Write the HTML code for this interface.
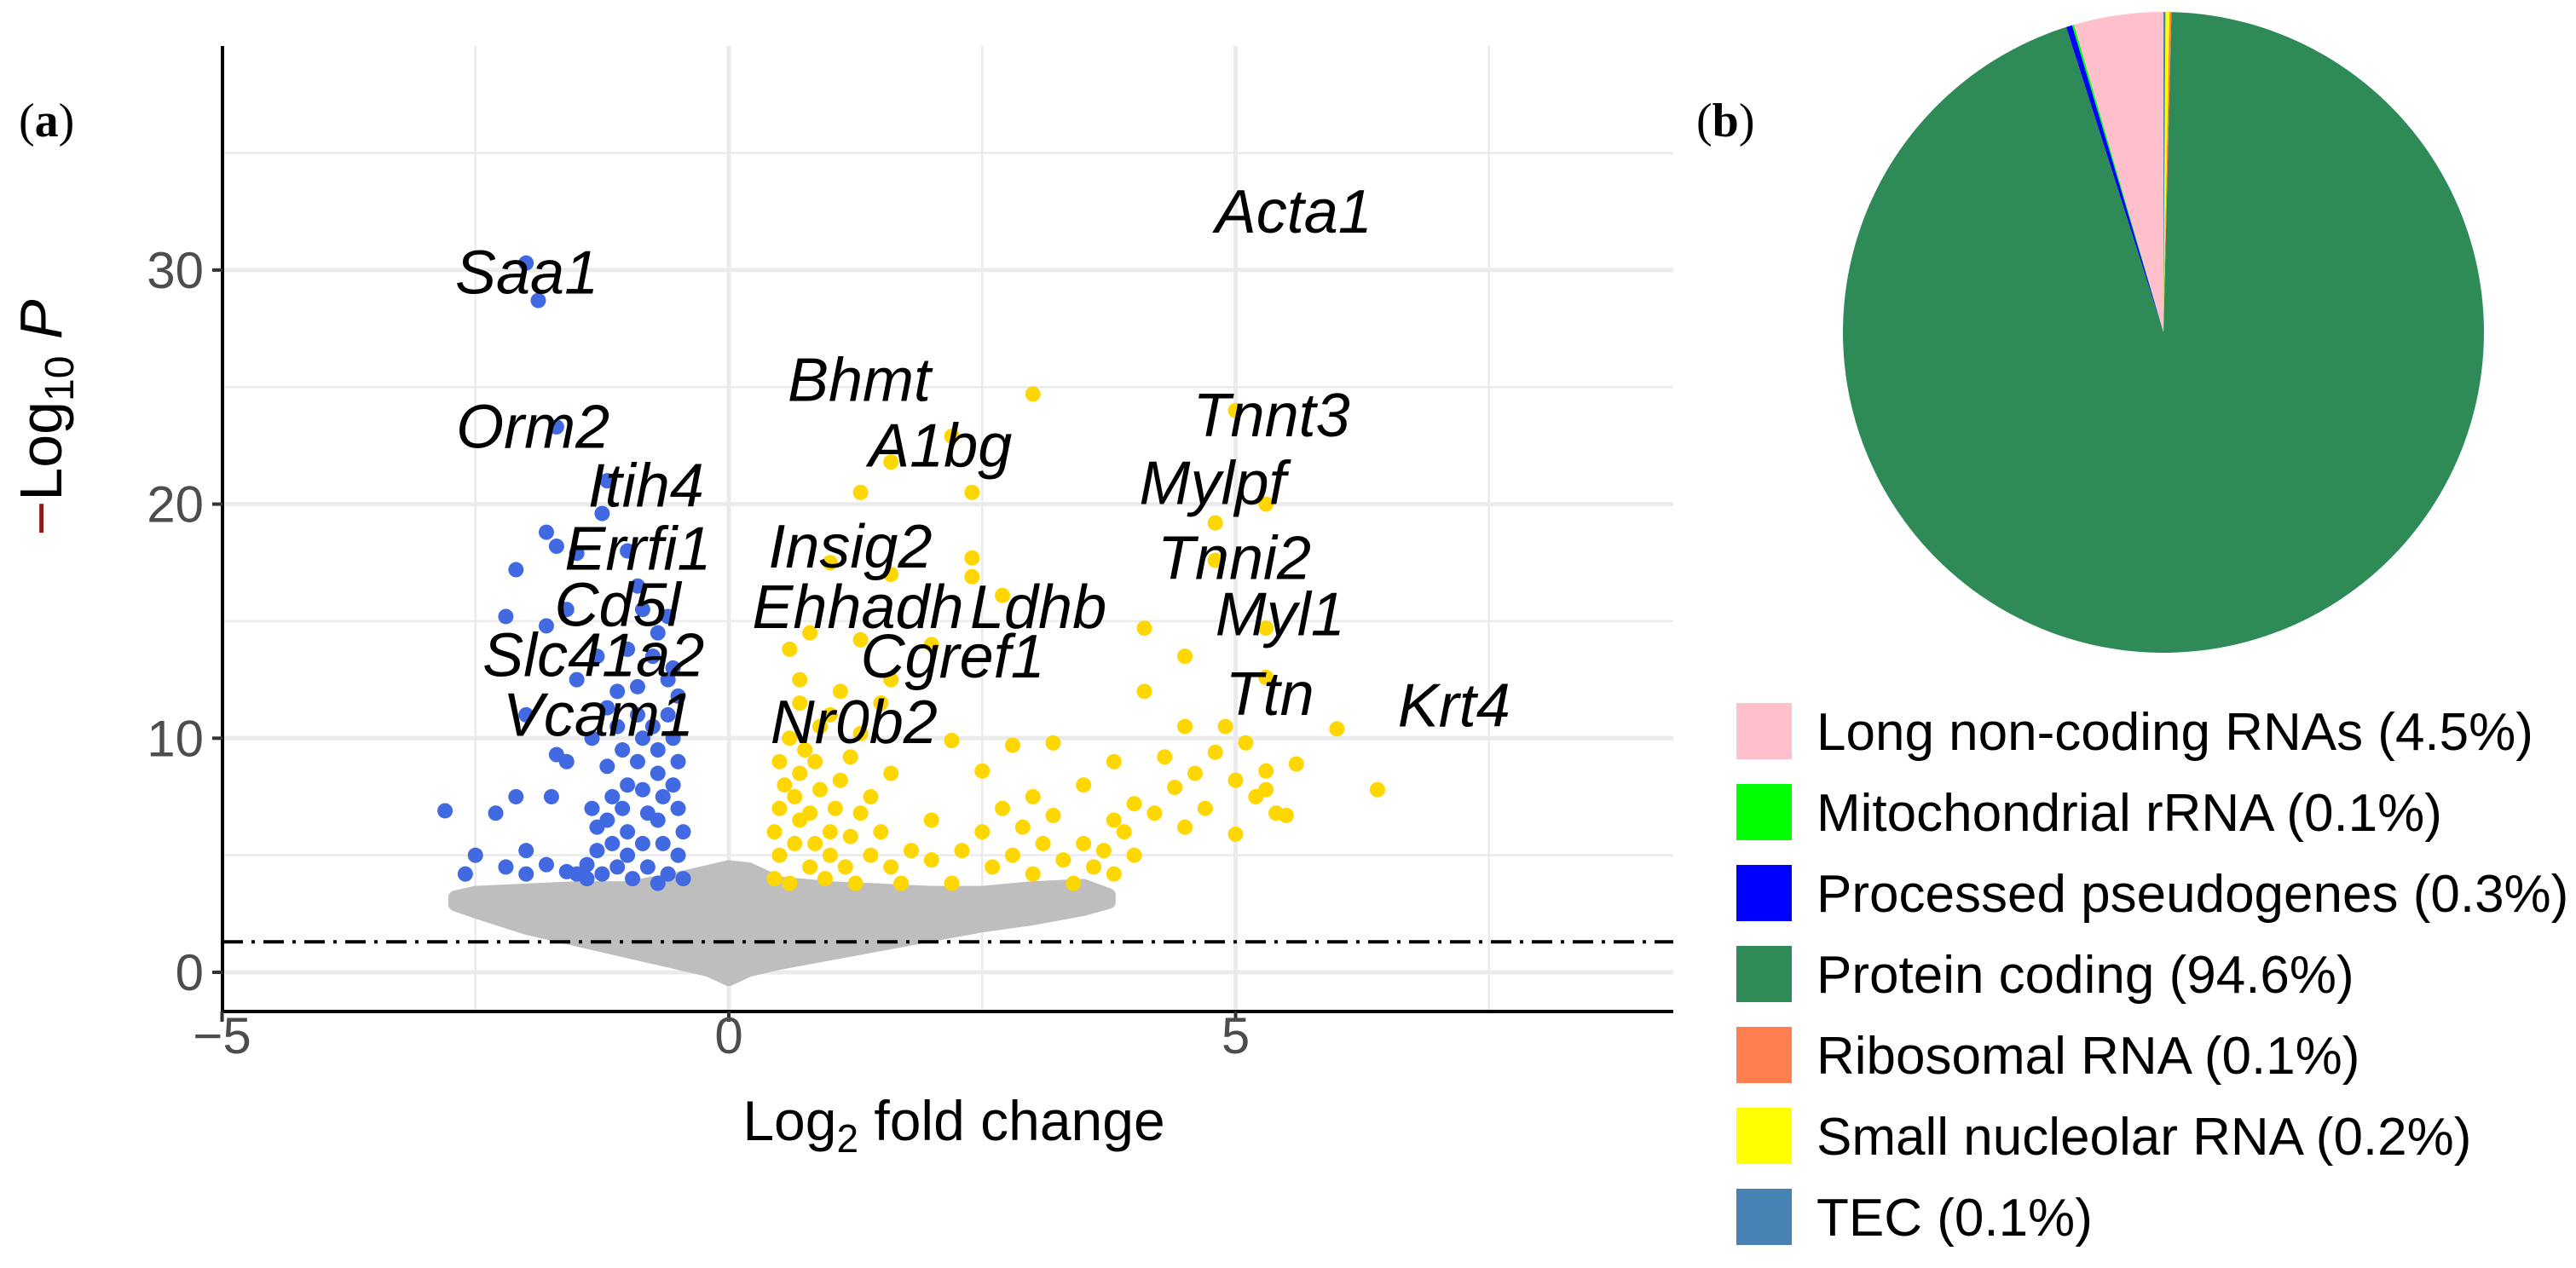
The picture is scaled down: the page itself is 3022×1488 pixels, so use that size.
<!DOCTYPE html>
<html><head><meta charset="utf-8">
<style>
html,body{margin:0;padding:0;background:#fff;}
svg{display:block;}
</style></head>
<body>
<svg id="fig" width="3022" height="1488" viewBox="0 0 3022 1488" xmlns="http://www.w3.org/2000/svg">
<rect x="0" y="0" width="3022" height="1488" fill="#fff"/>
<g id="grid"></g>
<g id="cloud"></g>
<g id="pts"></g>
<g id="axes"></g>
<g id="labels"></g>
<text x="22" y="160" font-family="Liberation Serif, serif" font-size="56">(<tspan font-weight="bold">a</tspan>)</text>
<text x="1990" y="160" font-family="Liberation Serif, serif" font-size="56">(<tspan font-weight="bold">b</tspan>)</text>
<g id="pie"></g>
<g id="legend"></g>
</svg>
<script>
const NS="http://www.w3.org/2000/svg";
// ---- volcano data ----
const xTicks=[-5,0,5];
const yTicks=[0,10,20,30];
const blueX=[-1.88,-2.0,-1.7,-1.2,-1.25,-1.8,-1.7,-2.1,-1.5,-1.0,-2.2,-1.8,-1.6,-1.3,-1.5,-1.1,-2.0,-1.7,-1.6,-2.1,-1.75,-2.8,-2.3,-2.6,-2.5,-2.2,-2.0,-1.8,-2.0,-1.6,-1.4,
-0.45,-0.5,-0.45,-0.5,-0.55,-0.5,-0.55,-0.6,-0.6,-0.65,-0.7,-0.65,-0.7,-0.7,-0.75,-0.8,-0.85,-0.8,-0.85,-0.9,-0.85,-0.9,-0.95,-1.0,-1.0,-1.05,-1.0,-1.05,-1.1,-1.15,-1.2,-1.15,-1.2,-1.25,-1.3,-1.3,-1.35,-0.6,-0.75,-0.9,-0.55,-0.7,-1.0,-0.85,-0.6,-0.9,-0.7,-1.4,-1.5,-0.5,-1.1,-1.2,-1.35];
const blueY=[28.7,30.3,23.3,21,19.6,18.8,18.2,17.2,17.9,18,15.2,14.8,15.5,13.5,12.5,12,11,9.3,9,7.5,7.5,6.9,6.8,4.2,5,4.5,5.2,4.6,4.2,4.3,4,
4,5,6,7,8,9,10,11,4.2,5.5,6.5,7.5,8.5,9.5,10.5,4.5,5.5,6.8,7.8,9,10,11,4.0,5,6,7,8,9.5,4.5,5.5,6.5,7.5,8.8,4.2,5.2,6.2,7,12.5,13.5,12.2,13,14.5,13.8,15.5,15.2,16.5,3.8,4.6,4.2,11.8,10.5,11.3,10];
const yelX=[0.45,0.5,0.45,0.5,0.55,0.5,0.6,0.6,0.65,0.7,0.65,0.7,0.75,0.8,0.85,0.8,0.9,0.85,0.9,0.95,1.0,1.0,1.05,1.1,1.2,1.15,1.2,1.3,1.25,1.4,1.5,1.4,1.6,1.7,1.8,1.6,2.0,2.0,2.2,2.3,2.5,2.6,2.8,2.9,3.0,3.1,3.2,3.3,3.4,3.5,3.6,3.7,3.8,3.9,3.8,4.0,4.0,2.8,2.5,2.2,1.3,1.0,0.7,1.5,0.6,0.7,0.8,1.1,1.6,2.0,1.3,1.0,1.6,2.4,2.4,2.7,1.3,2.4,1.6,2.2,3.0,4.1,4.5,4.1,4.5,4.3,4.4,4.6,4.7,4.8,4.9,5.0,5.1,5.2,5.3,5.4,5.5,5.6,5.0,4.5,4.2,5.3,5.0,5.3,4.8,4.8,5.3,5.3,6.0,6.4,3.8,3.5,3.2,3.0,2.7];
const yelY=[4,5,6,7,8,9,10,3.8,5.5,6.5,7.5,8.5,9.5,4.5,5.5,6.8,7.8,9,10.5,4,5,6,7,8.2,9.2,4.5,5.8,6.8,3.8,5,6,7.5,4.5,3.8,5.2,8.5,6.5,4.8,3.8,5.2,6,4.5,5,6.2,4.2,5.5,6.7,4.8,3.8,5.5,4.5,5.2,4.2,6,6.5,5,7.2,9.7,8.6,9.9,10.2,11,11.5,11.5,13.8,12.5,14.5,12,12.5,14,14.2,17.5,17,17.7,16.9,16.1,20.5,20.5,21.8,22.9,24.7,14.7,13.5,12,10.5,9.2,7.9,8.5,7,9.4,10.5,8.2,9.8,7.5,8.6,6.8,6.7,8.9,5.9,6.2,6.8,7.8,24,20,19.2,17.6,14.7,12.6,10.4,7.8,9,8,9.8,7.5,7];
const grayX=[-2.7,-2.5,-2,-1.5,-1,-0.5,-0.2,0,0.2,0.5,1,1.5,2,2.5,3,3.5,3.75];
const grayHigh=[3.2,3.4,3.5,3.6,3.6,4.0,4.3,4.5,4.4,3.8,3.6,3.5,3.4,3.4,3.6,3.7,3.3];
const grayLow=[2.9,2.6,1.9,1.4,0.9,0.4,0.1,-0.3,0.1,0.4,0.8,1.2,1.6,2.0,2.3,2.7,3.0];
const geneNames=["Saa1","Acta1","Bhmt","Orm2","Tnnt3","A1bg","Itih4","Mylpf","Errfi1","Insig2","Tnni2","Cd5l","Ehhadh","Ldhb","Myl1","Slc41a2","Cgref1","Ttn","Krt4","Vcam1","Nr0b2"];
const geneX=[-2.7,4.8,0.58,-2.69,4.58,1.38,-1.39,4.05,-1.62,0.39,4.23,-1.72,0.23,2.38,4.8,-2.43,1.3,4.9,6.6,-2.23,0.41];
const geneY=[29,31.6,24.4,22.4,22.9,21.6,19.9,20.0,17.2,17.3,16.8,14.8,14.7,14.7,14.4,12.65,12.6,11.0,10.5,10.1,9.8];
const thresholdY=1.3;
// ---- pie data ----
const pieCats=["Long non-coding RNAs (4.5%)","Mitochondrial rRNA (0.1%)","Processed pseudogenes (0.3%)","Protein coding (94.6%)","Ribosomal RNA (0.1%)","Small nucleolar RNA (0.2%)","TEC (0.1%)"];
const pieVals=[4.5,0.1,0.3,94.6,0.1,0.2,0.1];
const pieColors=["#ffc0cb","#00ff00","#0000ff","#2e8b57","#ff7f50","#ffff00","#4682b4"];

const X0=261,X1=1963,Ytop=54,Ybot=1187;
const xs=v=>855+v*118.9;
const ys=v=>1141-v*27.47;
function el(t,a,p){const e=document.createElementNS(NS,t);for(const k in a)e.setAttribute(k,a[k]);p.appendChild(e);return e;}

const grid=document.getElementById('grid');
[0,5,10,15,20,25,30,35].forEach(v=>{
  const l=el('line',{x1:X0,x2:X1,y1:ys(v),y2:ys(v),stroke:'#ebebeb','stroke-width':v%10===0?5:2.5},grid);
  
  
});
[-2.5,0,2.5,5,7.5].forEach(v=>{
  const l=el('line',{x1:xs(v),x2:xs(v),y1:Ytop,y2:Ybot,stroke:'#ebebeb','stroke-width':v%5===0?5:2.5},grid);
  
  
});

const cloud=document.getElementById('cloud');
let d='M'+grayX.map((x,i)=>xs(x)+','+ys(grayHigh[i])).join('L');
for(let i=grayX.length-1;i>=0;i--)d+='L'+xs(grayX[i])+','+ys(grayLow[i]);
const poly=el('path',{d:d+'Z',fill:'#bebebe',stroke:'#bebebe','stroke-width':16,'stroke-linejoin':'round'},cloud);



const pts=document.getElementById('pts');
blueX.forEach((x,i)=>{
  const c=el('circle',{cx:xs(x),cy:ys(blueY[i]),r:9,fill:'#4169e1'},pts);
  
  
});
yelX.forEach((x,i)=>{
  const c=el('circle',{cx:xs(x),cy:ys(yelY[i]),r:9,fill:'#ffd700'},pts);
  
  
});

const axes=document.getElementById('axes');
const th=el('line',{x1:X0,x2:X1,y1:ys(thresholdY),y2:ys(thresholdY),stroke:'#000','stroke-width':4,'stroke-dasharray':'24 10 4 10'},axes);


const ya=el('line',{x1:X0,x2:X0,y1:Ytop,y2:Ybot,stroke:'#000','stroke-width':4},axes);


const xa=el('line',{x1:X0,x2:X1,y1:Ybot,y2:Ybot,stroke:'#000','stroke-width':4},axes);


xTicks.forEach(v=>{
  el('line',{x1:xs(v),x2:xs(v),y1:Ybot,y2:Ybot+12,stroke:'#333','stroke-width':4},axes);
  const t=el('text',{x:xs(v),y:1236,'text-anchor':'middle','font-family':'Liberation Sans, sans-serif','font-size':60,fill:'#4d4d4d'},axes);
  t.textContent=v<0?'\u2212'+Math.abs(v):String(v);
  
  
});
yTicks.forEach(v=>{
  el('line',{x1:X0-12,x2:X0,y1:ys(v),y2:ys(v),stroke:'#333','stroke-width':4},axes);
  const t=el('text',{x:X0-22,y:ys(v)+21,'text-anchor':'end','font-family':'Liberation Sans, sans-serif','font-size':60,fill:'#4d4d4d'},axes);
  t.textContent=String(v);
  
  
});
const xt=el('text',{x:1119,y:1338,'text-anchor':'middle','font-family':'Liberation Sans, sans-serif','font-size':66,fill:'#000'},axes);
xt.innerHTML='Log<tspan font-size="46" dy="14">2</tspan><tspan dy="-14"> fold change</tspan>';


const yt=el('text',{x:0,y:0,'text-anchor':'middle','font-family':'Liberation Sans, sans-serif','font-size':70,fill:'#000',transform:'translate(72,490) rotate(-90)'},axes);
yt.innerHTML='<tspan fill="#8b1a1a">\u2212</tspan>Log<tspan font-size="48" dy="14">10</tspan><tspan dy="-14"> </tspan><tspan font-style="italic">P</tspan>';



const labs=document.getElementById('labels');
geneNames.forEach((n,i)=>{
  const t=el('text',{x:xs(geneX[i]),y:ys(geneY[i]),'font-family':'Liberation Sans, sans-serif','font-size':72,'font-style':'italic',fill:'#000'},labs);
  t.textContent=n;
  
  
});

// pie
const pie=document.getElementById('pie');
const cx=2538,cy=390,R=376;
const tot=pieVals.reduce((a,b)=>a+b,0);
let cum=0;
pieVals.forEach((v,i)=>{
  const a0=cum/tot*2*Math.PI; cum+=v; const a1=cum/tot*2*Math.PI;
  const p0=[cx-R*Math.sin(a0),cy-R*Math.cos(a0)], p1=[cx-R*Math.sin(a1),cy-R*Math.cos(a1)];
  const large=(a1-a0)>Math.PI?1:0;
  const p=el('path',{d:`M${cx},${cy}L${p0[0]},${p0[1]}A${R},${R} 0 ${large} 0 ${p1[0]},${p1[1]}Z`,fill:pieColors[i]},pie);
  
  
});

const leg=document.getElementById('legend');
pieCats.forEach((c,i)=>{
  const yc=858+i*95;
  const r=el('rect',{x:2037,y:yc-33,width:65,height:66,fill:pieColors[i]},leg);
  
  
  const t=el('text',{x:2131,y:yc+22,'font-family':'Liberation Sans, sans-serif','font-size':62,fill:'#000'},leg);
  t.textContent=c;
  
  
});
</script>
</body></html>
